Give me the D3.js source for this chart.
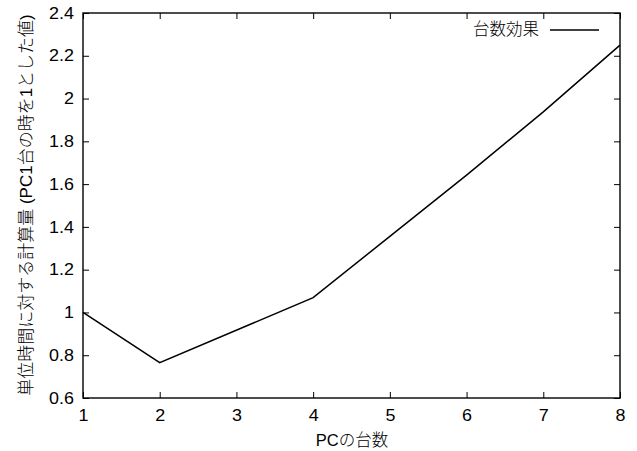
<!DOCTYPE html>
<html><head><meta charset="utf-8">
<script src="https://cdn.jsdelivr.net/npm/d3@7"></script>
<style>body{margin:0;background:#fff}svg{display:block}text{font-family:"Liberation Sans","Noto Sans CJK JP",sans-serif;font-size:16px;fill:#000}.cjk{font-family:"Noto Sans CJK JP",sans-serif;font-weight:300}.asc{font-family:"Liberation Sans",sans-serif;font-weight:400}</style>
</head><body><svg id="c" width="637" height="451"></svg>
<script>
const pcs = [1, 2, 4, 5, 6, 7, 8];
const effect = [1.0, 0.765, 1.069, 1.356, 1.642, 1.938, 2.25];
const xTicks = [1, 2, 3, 4, 5, 6, 7, 8];
const yTicks = [0.6, 0.8, 1.0, 1.2, 1.4, 1.6, 1.8, 2.0, 2.2, 2.4];
const seriesName = "台数効果";
const xTitle = "PCの台数";
const yTitle = "単位時間に対する計算量 (PC1台の時を1とした値)";

const svg = d3.select("#c");
const L = 83, R = 620, T = 13, B = 398;
const x = d3.scaleLinear().domain([1, 8]).range([L, R]);
const y = d3.scaleLinear().domain([0.6, 2.4]).range([B, T]);
const fmt = d => String(+d.toFixed(1));

function stretch(sel, s) {
  sel.each(function () {
    const t = d3.select(this);
    const ax = +t.attr("x") || 0;
    t.attr("transform", `translate(${ax},0) scale(${s},1) translate(${-ax},0)`);
  });
}
// split text into runs of ASCII / non-ASCII, each its own tspan
function mixed(textSel, str) {
  const runs = str.match(/[\x00-\x7F]+|[^\x00-\x7F]+/g);
  textSel.selectAll("tspan").data(runs).join("tspan")
    .attr("class", d => /^[\x00-\x7F]+$/.test(d) ? "asc" : "cjk")
    .text(d => d);
}

const g = svg.append("g");
g.append("g").attr("transform", `translate(0,${B})`)
  .call(d3.axisBottom(x).tickValues(xTicks).tickSize(-6).tickPadding(12).tickFormat(d3.format("d")));
g.append("g").attr("transform", `translate(0,${T})`)
  .call(d3.axisTop(x).tickValues(xTicks).tickSize(-6).tickFormat(""));
g.append("g").attr("transform", `translate(${L},0)`)
  .call(d3.axisLeft(y).tickValues(yTicks).tickSize(-6).tickPadding(9).tickFormat(fmt));
g.append("g").attr("transform", `translate(${R},0)`)
  .call(d3.axisRight(y).tickValues(yTicks).tickSize(-6).tickFormat(""));
g.selectAll(".domain").remove();
g.selectAll(".tick line").attr("stroke", "#000").attr("stroke-width", 1);
g.selectAll(".tick text").style("font-size", "16px").attr("fill", "#000");
stretch(g.selectAll(".tick text"), 1.12);

svg.append("rect").attr("x", L).attr("y", T).attr("width", R - L).attr("height", B - T)
  .attr("fill", "none").attr("stroke", "#000").attr("stroke-width", 1.4);

const line = d3.line().x((d, i) => x(pcs[i])).y(d => y(d));
svg.append("path").datum(effect).attr("d", line).attr("fill", "none")
  .attr("stroke", "#000").attr("stroke-width", 1.5);

// legend
const lg = svg.append("text").attr("x", 539).attr("y", 35).attr("text-anchor", "end")
  .style("font-size", "16.5px");
mixed(lg, seriesName);
svg.append("line").attr("x1", 550).attr("x2", 599).attr("y1", 30).attr("y2", 30)
  .attr("stroke", "#000").attr("stroke-width", 1.5);

const xt = svg.append("text").attr("x", 352).attr("y", 446).attr("text-anchor", "middle")
  .style("font-size", "16.5px");
mixed(xt, xTitle);
const yt = svg.append("text").attr("transform", "translate(32,205) rotate(-90)")
  .attr("text-anchor", "middle").style("font-size", "17px");
mixed(yt, yTitle);
</script></body></html>
